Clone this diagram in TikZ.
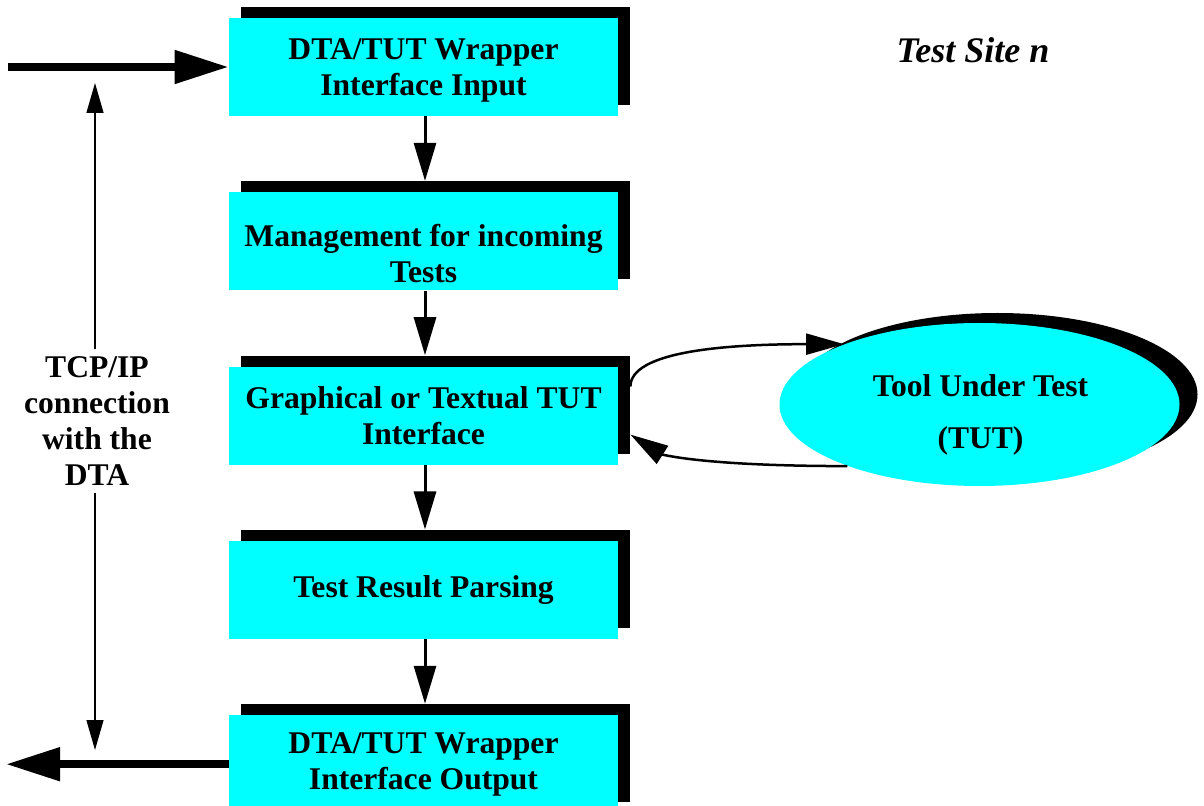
\documentclass[tikz,border=0pt]{standalone}
\usepackage{fontspec}
\setmainfont{Liberation Serif}
\usetikzlibrary{arrows.meta}
\usetikzlibrary{calc}
\usetikzlibrary{positioning}
\usetikzlibrary{shapes.geometric}
\usetikzlibrary{shadows}
\definecolor{stagecyan}{RGB}{0,255,255}
\newcommand\stagefont{\fontsize{15.8}{18}\selectfont\bfseries}
\tikzset{
    stage box/.style={
        fill=stagecyan,
        minimum width=194.5pt,
        minimum height=49pt,
        inner sep=0,
        align=center,
        font=\stagefont,
        drop shadow={shadow xshift=6pt, shadow yshift=5.5pt, fill=black, opacity=1},
    },
    tool ellipse/.style={
        ellipse,
        fill=stagecyan,
        minimum width=200pt,
        minimum height=81.5pt,
        inner sep=0,
        drop shadow={shadow xshift=9pt, shadow yshift=5pt, fill=black, opacity=1},
    },
    flow arrow/.style={
        line width=1.5pt,
        -{Triangle[length=19pt,width=11pt]},
    },
    site arrow/.style={
        line width=4pt,
        -{Triangle[length=27pt,width=16pt]},
    },
    tool arrow/.style={
        line width=1.25pt,
        -{Triangle[length=19pt,width=10.5pt]},
    },
    link arrow/.style={
        line width=0.65pt,
        -{Triangle[length=15pt,width=8.5pt]},
    },
}

\begin{document}
\begin{tikzpicture}[x=0.5pt, y=-0.5pt]
    \useasboundingbox (0,0) rectangle (1204,806);

    % wrapper stages
    \node[stage box] (input) at (423.5,67) {\rule{0pt}{14pt}DTA/TUT Wrapper\\Interface Input};
    \node[stage box, below=37.75pt of input] (manage) {\rule{0pt}{23pt}Management for incoming\\Tests};
    \node[stage box, below=37.75pt of manage] (gui) {Graphical or Textual TUT\\Interface};
    \node[stage box, below=37.75pt of gui] (parse) {Test Result Parsing};
    \node[stage box, below=37.75pt of parse] (output) {DTA/TUT Wrapper\\Interface Output};

    \node[tool ellipse] (tut) at (979.5,404.5) {};
    \node[font=\stagefont, align=center] (tut text) at ($(tut)+(1,10)$) {Tool Under Test\\[8pt](TUT)};

    \node[font=\fontsize{18}{21}\selectfont\bfseries\itshape, anchor=base] (site) at (973,63) {Test Site n};

    \node[font=\stagefont, align=center] (tcp) at (97,421) {TCP/IP\\connection\\with the\\DTA};

    \foreach \from/\to in {input/manage, manage/gui, gui/parse, parse/output}
    {
        \draw[flow arrow] ($(\from.south)+(1.5,0)$) -- ($(\to.north)+(1.5,-11)$);
    }

    \coordinate (in start) at (8,67);
    \coordinate (out end) at (6,765);
    \draw[site arrow] (in start) -- (input.west);
    \draw[site arrow] (output.west) -- (output.west -| out end);

    \draw[tool arrow] ($(gui.east)+(12,-29)$) .. controls +(0,-35) and +(-120,0) .. (tut.156);
    \draw[tool arrow] (tut.205) .. controls +(-150,0) and +(30,19) .. ($(gui.east)+(12,19)$);

    \coordinate (link top) at (95,83);
    \coordinate (link bottom) at (95,750);
    \draw[link arrow] (tcp.north -| link top) -- (link top);
    \draw[link arrow] (tcp.south -| link bottom) -- (link bottom);

\end{tikzpicture}
\end{document}
